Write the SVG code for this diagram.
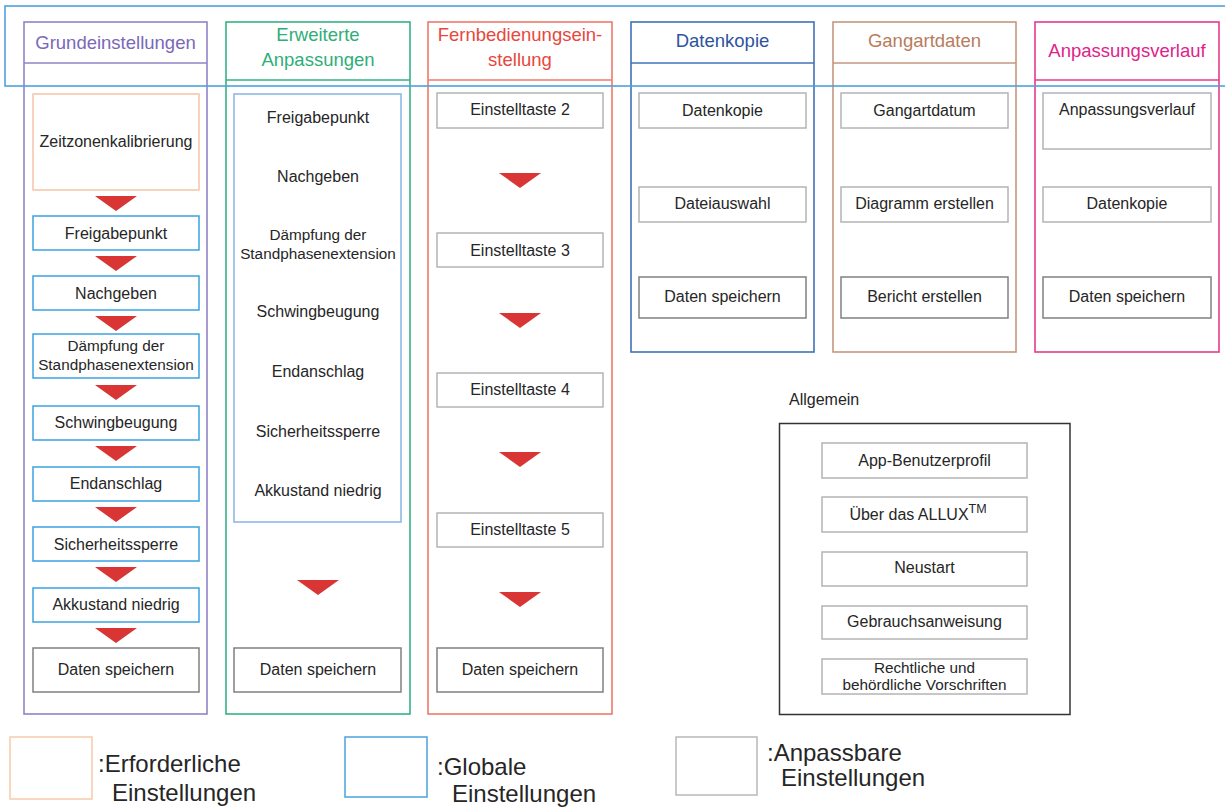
<svg xmlns="http://www.w3.org/2000/svg" xmlns:xlink="http://www.w3.org/1999/xlink" width="1225" height="807" viewBox="0 0 1225 807">
<style>
text{font-family:"Liberation Sans",Arial,sans-serif;fill:#262626;text-anchor:middle}
.t{font-size:16px}
.s{font-size:15.3px}
.h{font-size:18.5px}
.lg{font-size:24px;text-anchor:start}
.col{fill:none;stroke-width:1.6}
.req{fill:#fff;stroke:#f6c4a6;stroke-width:1.5}
.glob{fill:#fff;stroke:#3aa2e2;stroke-width:1.5}
.glob2{fill:#fff;stroke:#86b6e4;stroke-width:1.5}
.cus{fill:#fff;stroke:#b4b4b4;stroke-width:1.5}
.cus2{fill:#fff;stroke:#808080;stroke-width:1.5}
.arr{fill:#d93535}
</style>
<defs>
<polygon id="tri" points="-21,0 21,0 0,15"/>
</defs>

<!-- Column 1: Grundeinstellungen -->
<g id="col-grundeinstellungen">
<rect class="col" x="24" y="22" width="183" height="692" stroke="#9184c6"/>
<line x1="24" y1="63" x2="207" y2="63" stroke="#9184c6" stroke-width="1.6"/>
<text class="h" x="115.5" y="48.5" style="fill:#7a68b8">Grundeinstellungen</text>
</g>
<g id="n1-zeitzonen"><rect class="req" x="33" y="94" width="166" height="96"/><text class="t" x="116" y="147">Zeitzonenkalibrierung</text></g>
<g id="n1-freigabe"><rect class="glob" x="33" y="216" width="166" height="34"/><text class="t" x="116" y="238.5">Freigabepunkt</text></g>
<g id="n1-nachgeben"><rect class="glob" x="33" y="276" width="166" height="34"/><text class="t" x="116" y="298.5">Nachgeben</text></g>
<g id="n1-daempfung"><rect class="glob" x="33" y="334" width="166" height="44"/><text class="s" x="116" y="351">Dämpfung der</text><text class="s" x="116" y="370">Standphasenextension</text></g>
<g id="n1-schwing"><rect class="glob" x="33" y="406" width="166" height="34"/><text class="t" x="116" y="428">Schwingbeugung</text></g>
<g id="n1-endanschlag"><rect class="glob" x="33" y="467" width="166" height="34"/><text class="t" x="116" y="489">Endanschlag</text></g>
<g id="n1-sicherheit"><rect class="glob" x="33" y="527" width="166" height="34"/><text class="t" x="116" y="549.5">Sicherheitssperre</text></g>
<g id="n1-akku"><rect class="glob" x="33" y="588" width="166" height="34"/><text class="t" x="116" y="610">Akkustand niedrig</text></g>
<g id="n1-daten"><rect class="cus2" x="33" y="648" width="166" height="44"/><text class="t" x="116" y="675">Daten speichern</text></g>

<!-- Column 2: Erweiterte Anpassungen -->
<g id="col-erweiterte">
<rect class="col" x="226" y="22" width="184" height="692" stroke="#36b283"/>
<line x1="226" y1="80" x2="410" y2="80" stroke="#36b283" stroke-width="1.6"/>
<text class="h" x="318" y="41" style="fill:#2fae78">Erweiterte</text>
<text class="h" x="318" y="65.5" style="fill:#2fae78">Anpassungen</text>
</g>
<g id="n2-global">
<rect class="glob2" x="234" y="94" width="167" height="428"/>
<text class="t" x="318" y="123">Freigabepunkt</text>
<text class="t" x="318" y="181.5">Nachgeben</text>
<text class="s" x="318" y="239.5">Dämpfung der</text>
<text class="s" x="318" y="258.5">Standphasenextension</text>
<text class="t" x="318" y="317">Schwingbeugung</text>
<text class="t" x="318" y="377">Endanschlag</text>
<text class="t" x="318" y="436.5">Sicherheitssperre</text>
<text class="t" x="318" y="495.5">Akkustand niedrig</text>
</g>
<g id="n2-daten"><rect class="cus2" x="234" y="648" width="167" height="44"/><text class="t" x="318" y="675">Daten speichern</text></g>

<!-- Column 3: Fernbedienungseinstellung -->
<g id="col-fernbedienung">
<rect class="col" x="428" y="22" width="184" height="692" stroke="#ee7a6a"/>
<line x1="428" y1="80" x2="612" y2="80" stroke="#ee7a6a" stroke-width="1.6"/>
<text class="h" x="520" y="41" style="fill:#e8473c">Fernbedienungsein-</text>
<text class="h" x="520" y="66" style="fill:#e8473c">stellung</text>
</g>
<g id="n3-taste2"><rect class="cus" x="437" y="93" width="166" height="35"/><text class="t" x="520" y="115">Einstelltaste 2</text></g>
<g id="n3-taste3"><rect class="cus" x="437" y="233" width="166" height="34"/><text class="t" x="520" y="255.5">Einstelltaste 3</text></g>
<g id="n3-taste4"><rect class="cus" x="437" y="373" width="166" height="34"/><text class="t" x="520" y="395">Einstelltaste 4</text></g>
<g id="n3-taste5"><rect class="cus" x="437" y="513" width="166" height="34"/><text class="t" x="520" y="535">Einstelltaste 5</text></g>
<g id="n3-daten"><rect class="cus2" x="437" y="648" width="166" height="44"/><text class="t" x="520" y="675">Daten speichern</text></g>

<!-- Column 4: Datenkopie -->
<g id="col-datenkopie">
<rect class="col" x="631" y="22" width="183" height="330" stroke="#3f72b8"/>
<line x1="631" y1="63" x2="814" y2="63" stroke="#3f72b8" stroke-width="1.6"/>
<text class="h" x="722.5" y="47" style="fill:#2e539e">Datenkopie</text>
</g>
<g id="n4-datenkopie"><rect class="cus" x="639" y="93" width="167" height="35"/><text class="t" x="722.5" y="116">Datenkopie</text></g>
<g id="n4-dateiauswahl"><rect class="cus" x="639" y="187" width="167" height="35"/><text class="t" x="722.5" y="209">Dateiauswahl</text></g>
<g id="n4-daten"><rect class="cus2" x="639" y="277" width="167" height="41"/><text class="t" x="722.5" y="302">Daten speichern</text></g>

<!-- Column 5: Gangartdaten -->
<g id="col-gangartdaten">
<rect class="col" x="833" y="22" width="183" height="330" stroke="#c4977f"/>
<line x1="833" y1="63" x2="1016" y2="63" stroke="#c4977f" stroke-width="1.6"/>
<text class="h" x="924.5" y="47" style="fill:#b87c5c">Gangartdaten</text>
</g>
<g id="n5-gangartdatum"><rect class="cus" x="841" y="93" width="167" height="35"/><text class="t" x="924.5" y="116">Gangartdatum</text></g>
<g id="n5-diagramm"><rect class="cus" x="841" y="187" width="167" height="35"/><text class="t" x="924.5" y="209">Diagramm erstellen</text></g>
<g id="n5-bericht"><rect class="cus2" x="841" y="277" width="167" height="41"/><text class="t" x="924.5" y="302">Bericht erstellen</text></g>

<!-- Column 6: Anpassungsverlauf -->
<g id="col-anpassungsverlauf">
<rect class="col" x="1035" y="22" width="184" height="330" stroke="#e8398f"/>
<line x1="1035" y1="80" x2="1219" y2="80" stroke="#e8398f" stroke-width="1.6"/>
<text class="h" x="1127" y="57" style="fill:#e0238a">Anpassungsverlauf</text>
</g>
<g id="n6-verlauf"><rect class="cus" x="1043" y="93" width="168" height="56"/><text class="t" x="1127" y="115">Anpassungsverlauf</text></g>
<g id="n6-datenkopie"><rect class="cus" x="1043" y="187" width="168" height="35"/><text class="t" x="1127" y="209">Datenkopie</text></g>
<g id="n6-daten"><rect class="cus2" x="1043" y="277" width="168" height="41"/><text class="t" x="1127" y="302">Daten speichern</text></g>

<!-- Allgemein -->
<g id="allgemein">
<text class="t" x="789" y="405" style="text-anchor:start">Allgemein</text>
<rect x="779.5" y="423.5" width="290.5" height="291" fill="none" stroke="#333" stroke-width="1.5"/>
</g>
<g id="a-profil"><rect class="cus" x="822" y="443" width="205" height="35"/><text class="t" x="924.5" y="466">App-Benutzerprofil</text></g>
<g id="a-ueber"><rect class="cus" x="822" y="497" width="205" height="35"/><text class="t" x="918" y="520">Über das ALLUX<tspan dy="-7" font-size="12.5px">TM</tspan></text></g>
<g id="a-neustart"><rect class="cus" x="822" y="552" width="205" height="34"/><text class="t" x="924.5" y="573">Neustart</text></g>
<g id="a-gebrauch"><rect class="cus" x="822" y="606" width="205" height="33"/><text class="t" x="924.5" y="627">Gebrauchsanweisung</text></g>
<g id="a-recht"><rect class="cus" x="822" y="659" width="205" height="35"/><text class="s" x="924.5" y="673">Rechtliche und</text><text class="s" x="924.5" y="690">behördliche Vorschriften</text></g>

<!-- Connectors (arrows) -->
<g id="connectors" class="arr">
<use xlink:href="#tri" x="116" y="196"/>
<use xlink:href="#tri" x="116" y="256"/>
<use xlink:href="#tri" x="116" y="316"/>
<use xlink:href="#tri" x="116" y="385"/>
<use xlink:href="#tri" x="116" y="446"/>
<use xlink:href="#tri" x="116" y="507"/>
<use xlink:href="#tri" x="116" y="567"/>
<use xlink:href="#tri" x="116" y="628"/>
<use xlink:href="#tri" x="318" y="580"/>
<use xlink:href="#tri" x="520" y="173"/>
<use xlink:href="#tri" x="520" y="313"/>
<use xlink:href="#tri" x="520" y="452"/>
<use xlink:href="#tri" x="520" y="592"/>
</g>

<!-- Blue band -->
<rect x="5" y="6" width="1230" height="80" fill="none" stroke="#4ca2dc" stroke-width="1.6"/>

<!-- Legend -->
<g id="legend">
<rect x="10" y="737" width="82" height="62" fill="#fff" stroke="#f8c9ac" stroke-width="1.5"/>
<text class="lg" x="98" y="772">:Erforderliche</text>
<text class="lg" x="112" y="801">Einstellungen</text>
<rect x="345" y="737" width="82" height="60" fill="#fff" stroke="#4aa2dc" stroke-width="1.5"/>
<text class="lg" x="437" y="775">:Globale</text>
<text class="lg" x="452" y="802">Einstellungen</text>
<rect x="676" y="737" width="81" height="58" fill="#fff" stroke="#b8b8b8" stroke-width="1.5"/>
<text class="lg" x="767" y="761">:Anpassbare</text>
<text class="lg" x="781" y="786">Einstellungen</text>
</g>
</svg>
